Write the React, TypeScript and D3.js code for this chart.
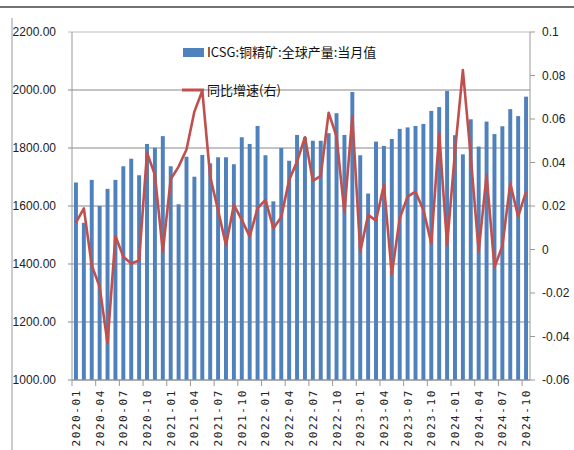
import React from "react";
import * as d3 from "d3";

const months: string[] = [
  "2020-01","2020-02","2020-03","2020-04","2020-05","2020-06","2020-07","2020-08","2020-09","2020-10","2020-11","2020-12",
  "2021-01","2021-02","2021-03","2021-04","2021-05","2021-06","2021-07","2021-08","2021-09","2021-10","2021-11","2021-12",
  "2022-01","2022-02","2022-03","2022-04","2022-05","2022-06","2022-07","2022-08","2022-09","2022-10","2022-11","2022-12",
  "2023-01","2023-02","2023-03","2023-04","2023-05","2023-06","2023-07","2023-08","2023-09","2023-10","2023-11","2023-12",
  "2024-01","2024-02","2024-03","2024-04","2024-05","2024-06","2024-07","2024-08","2024-09","2024-10",
];

const production: number[] = [
  1681, 1542, 1690, 1600, 1659, 1690, 1737, 1763, 1706, 1814, 1801, 1841,
  1737, 1606, 1770, 1701, 1776, 1747, 1768, 1768, 1744, 1837, 1814, 1876,
  1775, 1616, 1800, 1756, 1845, 1837, 1825, 1825, 1851, 1920, 1845, 1993,
  1775, 1643, 1822, 1807, 1831, 1866, 1871, 1876, 1883, 1928, 1941, 1997,
  1844, 1778, 1899, 1805, 1891, 1848, 1875, 1934, 1910, 1977,
];

const yoy: number[] = [
  0.0123, 0.0189, -0.0073, -0.0171, -0.0431, 0.0062, -0.0033, -0.0064, -0.0051, 0.0445, 0.0343, -0.001,
  0.0323, 0.0381, 0.046, 0.0634, 0.073, 0.0335, 0.018, 0.002, 0.0205, 0.0136, 0.006, 0.019,
  0.0228, 0.0097, 0.015, 0.032, 0.0404, 0.0516, 0.0316, 0.0338, 0.0629, 0.0519, 0.0169, 0.0614,
  -0.001, 0.0159, 0.0133, 0.0297, -0.0114, 0.0143, 0.0243, 0.0266, 0.0182, 0.0028, 0.0534, 0.002,
  0.045, 0.0825, 0.0427, -0.001, 0.0343, -0.0082, 0.0016, 0.0304, 0.0151, 0.0266,
];

const leftTicks: number[] = [1000, 1200, 1400, 1600, 1800, 2000, 2200];
const rightTicks: number[] = [-0.06, -0.04, -0.02, 0, 0.02, 0.04, 0.06, 0.08, 0.1];
const barLabel = "ICSG:铜精矿:全球产量:当月值";
const lineLabel = "同比增速(右)";

const W = 574;
const H = 450;
const PL = 72;
const PR = 530;
const PT = 32;
const PB = 380;
const BLUE = "#4F81BD";
const RED = "#C0504D";
const NUM_FONT = "'Liberation Sans', Arial, sans-serif";
const CJK_FONT = "'Noto Sans CJK SC', 'Noto Sans', sans-serif";

export default function App() {
  const x = d3.scaleBand<number>().domain(d3.range(months.length)).range([PL, PR]).paddingInner(0.5).paddingOuter(0.25);
  const step = x.step();
  const yL = d3.scaleLinear().domain([1000, 2200]).range([PB, PT]);
  const yR = d3.scaleLinear().domain([-0.06, 0.1]).range([PB, PT]);
  const line = d3
    .line<number>()
    .x((_, i) => (x(i) as number) + x.bandwidth() / 2)
    .y((d) => yR(d));

  const boundaryIdx = d3.range(0, months.length + 1, 3);
  const labelIdx = d3.range(0, months.length, 3);
  const fmtR = (v: number) => String(Number(v.toFixed(2)));

  return (
    <svg width={W} height={H} style={{ position: "absolute", left: 0, top: 0, background: "#fff" }}>
      <rect x={0} y={0} width={W} height={H} fill="#fff" />
      {/* frame lines */}
      <line x1={0} x2={W} y1={7} y2={7} stroke="#444" strokeWidth={1.5} />
      <line x1={12} x2={12} y1={18} y2={H} stroke="#999" strokeWidth={1} />

      {/* gridlines */}
      {leftTicks.map((t) => (
        <line key={"g" + t} x1={PL - 4} x2={PR} y1={yL(t)} y2={yL(t)} stroke={t === 2200 ? "#bbb" : "#888"} strokeWidth={1} />
      ))}

      {/* bars */}
      {production.map((v, i) => (
        <rect key={"b" + i} x={x(i)} y={yL(v)} width={x.bandwidth()} height={PB - yL(v)} fill={BLUE} />
      ))}

      {/* axes */}
      <line x1={PL} x2={PL} y1={PT} y2={PB} stroke="#999" />
      <line x1={PR} x2={PR} y1={PT} y2={PB} stroke="#999" />
      <line x1={PL} x2={PR} y1={PB} y2={PB} stroke="#999" />
      {rightTicks.map((t) => (
        <line key={"rt" + t} x1={PR} x2={PR + 5} y1={yR(t)} y2={yR(t)} stroke="#999" />
      ))}
      {boundaryIdx.map((i) => (
        <line key={"xt" + i} x1={PL + i * step} x2={PL + i * step} y1={PB} y2={PB + 6} stroke="#999" />
      ))}

      {/* line series */}
      <path d={line(yoy) || ""} fill="none" stroke={RED} strokeWidth={2.6} strokeLinejoin="round" />

      {/* left labels */}
      {leftTicks.map((t) => (
        <text key={"lt" + t} x={56} y={yL(t)} dy="0.35em" textAnchor="end" fontFamily={NUM_FONT} fontSize={12} fill="#222">
          {t.toFixed(2)}
        </text>
      ))}
      {/* right labels */}
      {rightTicks.map((t) => (
        <text key={"rl" + t} x={542} y={yR(t)} dy="0.35em" textAnchor="start" fontFamily={NUM_FONT} fontSize={12} fill="#222">
          {fmtR(t)}
        </text>
      ))}
      {/* x labels */}
      {labelIdx.map((i) => {
        const cx = (x(i) as number) + x.bandwidth() / 2;
        return (
          <text
            key={"xl" + i}
            transform={`translate(${cx + 4},${389}) rotate(-90)`}
            textAnchor="end"
            fontFamily="'DejaVu Sans Mono', monospace"
            fontSize={11}
            letterSpacing={1.6}
            fill="#222"
          >
            {months[i]}
          </text>
        );
      })}

      {/* legend */}
      <rect x={183} y={48} width={21} height={9} fill={BLUE} />
      <text x={207} y={57} fontFamily={CJK_FONT} fontSize={13} fill="#111">
        {barLabel}
      </text>
      <line x1={182} x2={204} y1={90} y2={90} stroke={RED} strokeWidth={3} />
      <text x={207} y={95} fontFamily={CJK_FONT} fontSize={13} fill="#111">
        {lineLabel}
      </text>
    </svg>
  );
}
